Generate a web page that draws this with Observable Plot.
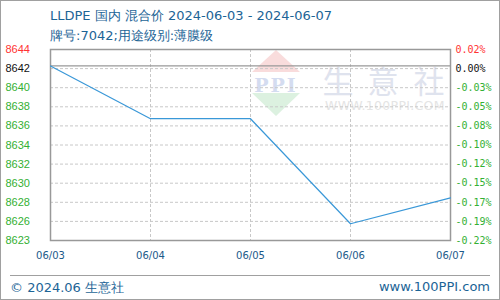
<!DOCTYPE html>
<html><head><meta charset="utf-8">
<script src="https://cdn.jsdelivr.net/npm/d3@7"></script>
<script src="https://cdn.jsdelivr.net/npm/@observablehq/plot@0.6"></script>
<style>
body{margin:0;background:#fff;}
#wrap{position:relative;width:500px;height:300px;overflow:hidden;font-family:"DejaVu Sans",sans-serif;}
#border{position:absolute;left:0;top:0;width:498px;height:298px;border:1px solid #a0a0a0;pointer-events:none;}
.t{position:absolute;white-space:nowrap;color:#1c6496;}
#chart{position:absolute;left:0;top:0;}
.wm{position:absolute;white-space:nowrap;}
.cj{position:absolute;top:57px;width:32px;height:31px;line-height:31px;font:31px 'Noto Sans CJK SC';color:#dfe3ee;text-align:center;}
</style></head>
<body>
<div id="wrap">
  <div class="wm" style="left:252px;top:50px;width:0;height:0;border-left:24px solid transparent;border-right:24px solid transparent;border-bottom:22px solid #f9dcdc;"></div>
  <div class="wm" style="left:252px;top:74px;width:48px;height:17px;line-height:17px;font:bold 19px 'DejaVu Serif';color:#d4dcf0;text-align:center;letter-spacing:2px;">PPI</div>
  <div class="wm" style="left:252px;top:93px;width:0;height:0;border-left:24px solid transparent;border-right:24px solid transparent;border-top:23px solid #dcf1e0;"></div>
  <div class="cj" style="left:322px;">生</div>
  <div class="cj" style="left:367px;">意</div>
  <div class="cj" style="left:413px;">社</div>
  <div class="wm" style="left:325px;top:98px;height:12px;line-height:12px;font:12.5px 'DejaVu Sans';color:#e4e4e4;letter-spacing:0.3px;">WWW.100PPI.COM</div>
  <div id="chart"></div>
  <div class="t" id="title" style="left:50px;top:7px;font-size:13px;"></div>
  <div class="t" id="subtitle" style="left:50px;top:27px;font-size:13px;"></div>
  <div style="position:absolute;left:10px;top:275px;width:480px;height:0;border-top:1px solid #a0a0a0;"></div>
  <div class="t" id="footL" style="left:10px;top:279px;font-size:13px;"></div>
  <div class="t" id="footR" style="right:10px;top:279px;font-size:13px;"></div>
  <div id="border"></div>
</div>
<script>
const title = "LLDPE 国内 混合价 2024-06-03 - 2024-06-07";
const subtitle = "牌号:7042;用途级别:薄膜级";
const footLeft = "© 2024.06 生意社";
const footRight = "www.100PPI.com";
const dates = ["06/03", "06/04", "06/05", "06/06", "06/07"];
const prices = [8642, 8636.2, 8636.2, 8624.65, 8627.5];
const basePrice = 8642;
const yMax = 8643.81;
const yMin = 8622.81;
const leftLabels = ["8644","8642","8640","8638","8636","8634","8632","8630","8628","8626","8623"];
const rightLabels = ["0.02%","0.00%","-0.03%","-0.05%","-0.08%","-0.10%","-0.12%","-0.15%","-0.17%","-0.19%","-0.22%"];

document.getElementById("title").textContent = title;
document.getElementById("subtitle").textContent = subtitle;
document.getElementById("footL").textContent = footLeft;
document.getElementById("footR").textContent = footRight;

const idx = d3.range(leftLabels.length);
const tickVals = idx.map(i => yMax - i * (yMax - yMin) / (leftLabels.length - 1));
const labelColor = i => i === 0 ? "#ff3333" : i === 1 ? "#111111" : "#33b033";
const data = dates.map((d, i) => ({date: d, price: prices[i]}));

const chart = Plot.plot({
  width: 500, height: 300,
  marginLeft: 50, marginRight: 50, marginTop: 49, marginBottom: 60,
  style: {fontFamily: "DejaVu Sans", background: "transparent", overflow: "visible"},
  x: {type: "point", domain: dates, padding: 0, axis: null},
  y: {domain: [yMin, yMax], axis: null},
  marks: [
    Plot.ruleY(tickVals.slice(1, -1), {stroke: "#c8c8c8", strokeDasharray: "3,2", strokeWidth: 1}),
    Plot.ruleX(dates.slice(1, -1), {stroke: "#c8c8c8", strokeDasharray: "3,2", strokeWidth: 1}),
    Plot.ruleY([basePrice], {stroke: "#999999", strokeWidth: 1.2}),
    Plot.frame({stroke: "#999999", strokeWidth: 1.5}),
    Plot.line(data, {x: "date", y: "price", stroke: "#3a98d8", strokeWidth: 1.2}),
    Plot.text(idx, {y: i => tickVals[i], text: i => leftLabels[i], fill: i => labelColor(i),
      frameAnchor: "left", textAnchor: "start", dx: -45, fontSize: 11, fontFamily: "Liberation Sans"}),
    Plot.text(idx, {y: i => tickVals[i], text: i => rightLabels[i], fill: i => labelColor(i),
      frameAnchor: "right", textAnchor: "start", dx: 5, fontSize: 10, fontFamily: "DejaVu Sans Mono"}),
    Plot.text(dates, {x: d => d, text: d => d, frameAnchor: "bottom", dy: 18, fill: "#1c5a8a", fontSize: 10})
  ]
});
document.getElementById("chart").appendChild(chart);
</script>
</body></html>
